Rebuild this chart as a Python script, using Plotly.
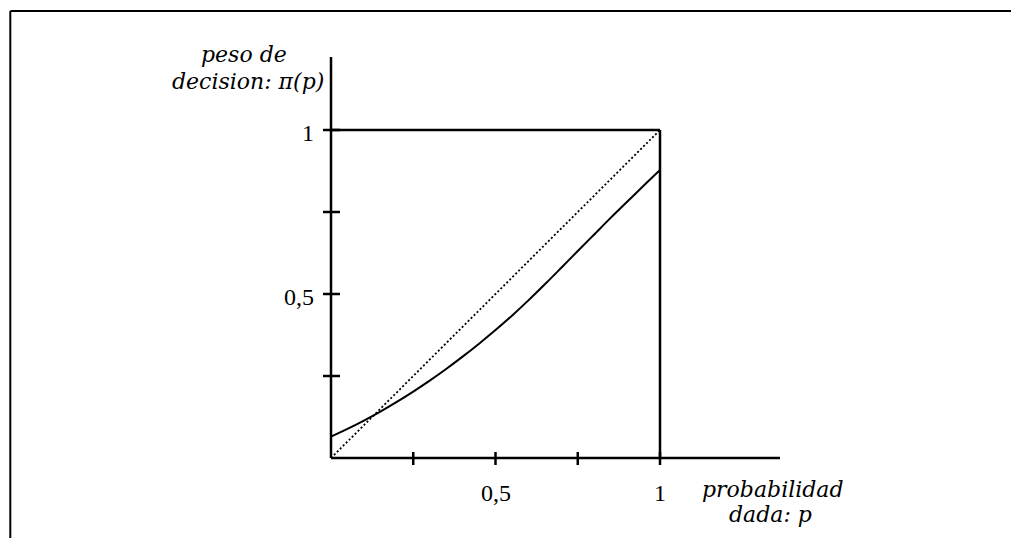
import plotly.graph_objects as go

# Probability weighting function: given probability p -> decision weight pi(p)
prob = [0.0, 0.05, 0.10, 0.15, 0.20, 0.25, 0.30, 0.35, 0.40, 0.45, 0.50,
        0.55, 0.60, 0.65, 0.70, 0.75, 0.80, 0.85, 0.90, 0.95, 1.0]
weight = [0.065, 0.0885, 0.114, 0.1415, 0.171, 0.2025, 0.236, 0.2715, 0.309, 0.3485, 0.390,
          0.434, 0.4805, 0.5295, 0.580, 0.631, 0.6815, 0.732, 0.781, 0.830, 0.878]

# Reference diagonal pi(p) = p
diag_p = [0.0, 1.0]
diag_w = [0.0, 1.0]

# Axis ticks
x_ticks = [0.25, 0.5, 0.75, 1.0]
x_tick_text = ["", "0,5", "", "1"]
y_ticks = [0.25, 0.5, 0.75, 1.0]
y_tick_text = ["", "0,5", "", "1"]

W, H = 1011, 538
X0_PX, X1_PX = 331, 660   # pixel columns of p = 0 and p = 1
Y0_PX, Y1_PX = 458, 130   # pixel rows of pi = 0 and pi = 1
SX = X1_PX - X0_PX
SY = Y0_PX - Y1_PX


def dx(px):
    return (px - X0_PX) / SX


def dy(py):
    return (Y0_PX - py) / SY


BLACK = "#000000"
SERIF = "Liberation Serif"
MATH = "DejaVu Serif"

fig = go.Figure()

fig.add_trace(go.Scatter(
    x=diag_p, y=diag_w, mode="lines",
    line=dict(color=BLACK, width=1.8, dash="2px,2.2px"),
    hoverinfo="skip"))

fig.add_trace(go.Scatter(
    x=prob, y=weight, mode="lines", line_shape="spline",
    line=dict(color=BLACK, width=2),
    hoverinfo="skip"))

shapes = []
AX_W = 2.5

# axes
shapes.append(dict(type="line", xref="x", yref="y", x0=0, x1=0, y0=0, y1=dy(57),
                   line=dict(color=BLACK, width=AX_W)))
shapes.append(dict(type="line", xref="x", yref="y", x0=0, x1=dx(780), y0=0, y1=0,
                   line=dict(color=BLACK, width=AX_W)))
# unit square top and right edges
shapes.append(dict(type="line", xref="x", yref="y", x0=0, x1=1, y0=1, y1=1,
                   line=dict(color=BLACK, width=AX_W)))
shapes.append(dict(type="line", xref="x", yref="y", x0=1, x1=1, y0=0, y1=1,
                   line=dict(color=BLACK, width=AX_W)))

# tick marks crossing the axes
for t in x_ticks:
    shapes.append(dict(type="line", xref="x", yref="y", x0=t, x1=t,
                       y0=dy(452), y1=dy(465), line=dict(color=BLACK, width=AX_W)))
for t in y_ticks:
    shapes.append(dict(type="line", xref="x", yref="y", x0=dx(323), x1=dx(340),
                       y0=t, y1=t, line=dict(color=BLACK, width=AX_W)))

# outer frame (top and left edges)
shapes.append(dict(type="line", xref="paper", yref="paper", x0=10.3 / W, x1=1,
                   y0=1 - 11 / H, y1=1 - 11 / H, line=dict(color=BLACK, width=2)))
shapes.append(dict(type="line", xref="paper", yref="paper", x0=10.3 / W, x1=10.3 / W,
                   y0=0, y1=1 - 11 / H, line=dict(color=BLACK, width=2)))

annotations = []
tick_font = dict(family=SERIF, size=24, color=BLACK)
for t, s in zip(x_ticks, x_tick_text):
    if s:
        annotations.append(dict(x=t, y=dy(493), xref="x", yref="y", text=s,
                                showarrow=False, xanchor="center", yanchor="middle",
                                font=tick_font))
for t, s in zip(y_ticks, y_tick_text):
    if s:
        annotations.append(dict(x=dx(316), y=t, xref="x", yref="y", text=s,
                                showarrow=False, xanchor="right", yanchor="middle",
                                yshift=-3, font=tick_font))

title_font = dict(family=MATH, size=22, color=BLACK, style="italic")
for text, cx, cy in [("peso de", 244, 54), ("decision: π(p)", 248, 81),
                     ("probabilidad", 773, 489), ("dada: p", 770, 514)]:
    annotations.append(dict(x=dx(cx), y=dy(cy), xref="x", yref="y", text=text,
                            showarrow=False, xanchor="center", yanchor="middle",
                            font=title_font))

fig.update_layout(
    width=W, height=H,
    margin=dict(l=0, r=0, t=0, b=0),
    paper_bgcolor="white", plot_bgcolor="white",
    showlegend=False,
    xaxis=dict(visible=False, range=[dx(0), dx(W)], fixedrange=True),
    yaxis=dict(visible=False, range=[dy(H), dy(0)], fixedrange=True),
    shapes=shapes,
    annotations=annotations,
)

fig.write_html("out.html", config={"displayModeBar": False})
